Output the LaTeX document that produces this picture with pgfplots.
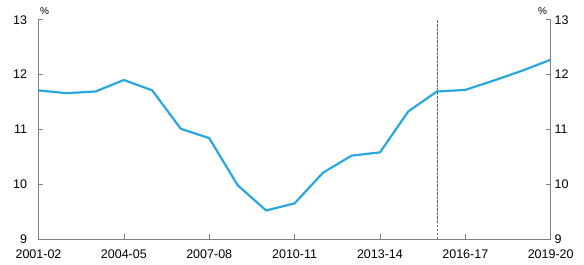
\documentclass[border=0pt]{standalone}
\usepackage{fontspec}
\setmainfont{Liberation Sans}
\usepackage{pgfplots}
\pgfplotsset{compat=1.18}
\definecolor{lineblue}{RGB}{41,168,224}
\definecolor{axgray}{RGB}{128,128,128}
\begin{document}
\fontsize{12.5}{14}\selectfont
\begin{tikzpicture}[x=1pt,y=1pt]
\pgfplotsset{
  common/.style={
    scale only axis, width=512.2pt, height=219.3pt,
    xmin=0, xmax=18, ymin=9, ymax=13,
    ytick={9,10,11,12,13},
    tick align=inside, major tick length=4.5pt,
    tick style={axgray, line width=0.6pt},
    axis line style={axgray, line width=0.8pt},
    /pgf/number format/assume math mode=true,
    ticklabel style={font=\fontsize{12.5}{14}\selectfont},
  }
}
\begin{axis}[common, name=main,
  axis x line*=bottom, axis y line*=left,
  xtick={0,3,6,9,12,15,18},
  xticklabels={2001-02,2004-05,2007-08,2010-11,2013-14,2016-17,2019-20},
  xticklabel style={yshift=-6.5pt},
  yticklabel style={xshift=-7pt},
]
\addplot[black!60, dash pattern=on 2.5pt off 1.5pt, line width=0.6pt, forget plot] coordinates {(14,9) (14,13)};
\addplot[lineblue, line width=2.2pt, line join=round] coordinates {
(0,11.71) (1,11.66) (2,11.69) (3,11.90) (4,11.71) (5,11.01) (6,10.84)
(7,9.98) (8,9.52) (9,9.65) (10,10.21) (11,10.52) (12,10.58) (13,11.33)
(14,11.69) (15,11.72) (16,11.89) (17,12.07) (18,12.27)};
\end{axis}
\begin{axis}[common,
  axis x line=none, axis y line*=right,
  xtick=\empty,
  yticklabel style={xshift=-0.5pt},
]
\end{axis}
\node[anchor=south west, inner sep=0pt, font=\fontsize{10}{12}\selectfont] at ([xshift=1.5pt,yshift=4.5pt]main.north west) {\%};
\node[anchor=south east, inner sep=0pt, font=\fontsize{10}{12}\selectfont] at ([xshift=-3.5pt,yshift=4.5pt]main.north east) {\%};
\pgfresetboundingbox
\path (main.south west) ++(-38.5pt,-26pt) coordinate (bl);
\path (main.north east) ++(33.3pt,19.7pt) coordinate (tr);
\useasboundingbox (bl) rectangle (tr);
\end{tikzpicture}
\end{document}
